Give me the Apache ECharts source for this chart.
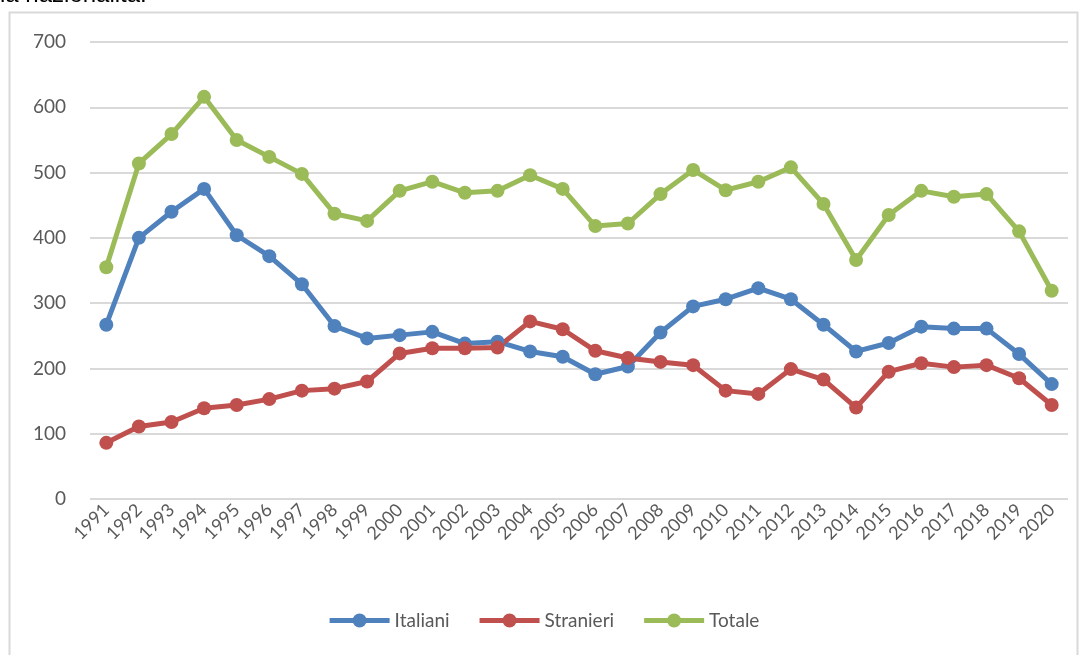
<!DOCTYPE html>
<html>
<head>
<meta charset="utf-8">
<script src="https://cdn.jsdelivr.net/npm/echarts@6/dist/echarts.min.js"></script>
<style>
  html, body { margin: 0; padding: 0; background: #ffffff; }
  #chart { width: 1089px; height: 655px; }
</style>
</head>
<body>
<div id="chart"></div>
<script>
// Years on the category axis
const years = ['1991','1992','1993','1994','1995','1996','1997','1998','1999','2000',
  '2001','2002','2003','2004','2005','2006','2007','2008','2009','2010',
  '2011','2012','2013','2014','2015','2016','2017','2018','2019','2020'];

// Counts per year by nationality
const italiani = [267, 400, 440, 475, 404, 372, 329, 265, 246, 251,
  256, 238, 241, 226, 218, 191, 203, 255, 295, 306,
  323, 306, 267, 226, 239, 264, 261, 261, 222, 176];
const stranieri = [86, 111, 118, 139, 144, 153, 166, 169, 180, 223,
  231, 231, 232, 272, 260, 227, 216, 210, 205, 166,
  161, 199, 183, 140, 195, 208, 202, 205, 185, 144];
const totale = [355, 514, 559, 616, 550, 524, 498, 437, 426, 472,
  486, 469, 472, 496, 475, 418, 422, 467, 504, 473,
  486, 508, 452, 366, 435, 472, 463, 467, 410, 319];

const yTicks = { min: 0, max: 700, interval: 100 };

// Legend marker: thick line with a round dot in the middle
const legendIcon = 'path://M0,4.5L24,4.5L24,9.5L0,9.5Z M36,4.5L60,4.5L60,9.5L36,9.5Z ' +
  'M23,7A7,7 0 1,1 37,7A7,7 0 1,1 23,7Z';

const chart = echarts.init(document.getElementById('chart'), null, { renderer: 'canvas' });

function lineSeries(name, data, color) {
  return {
    name: name,
    type: 'line',
    data: data,
    symbol: 'circle',
    symbolSize: 14,
    lineStyle: { width: 5, color: color },
    itemStyle: { color: color },
    emphasis: { disabled: true },
    animation: false
  };
}

chart.setOption({
  animation: false,
  textStyle: { fontFamily: 'Lato, "Open Sans", sans-serif' },
  graphic: [
    {
      type: 'text',
      style: {
        x: 0,
        y: 7,
        text: 'la nazionalità:',
        font: '24px "Liberation Sans", Arial, sans-serif',
        fill: '#000000',
        verticalAlign: 'bottom'
      },
      silent: true
    },
    {
      type: 'rect',
      shape: { x: 9.5, y: 12.5, width: 1068, height: 660 },
      style: { fill: 'none', stroke: '#d9d9d9', lineWidth: 2 },
      silent: true
    }
  ],
  grid: { left: 90, right: 21, top: 42, bottom: 156, containLabel: false },
  xAxis: {
    type: 'category',
    data: years,
    boundaryGap: true,
    axisLine: { show: false },
    axisTick: { show: false },
    axisLabel: {
      rotate: 45,
      color: '#595959',
      fontSize: 18,
      margin: 8,
      interval: 0
    }
  },
  yAxis: {
    type: 'value',
    min: yTicks.min,
    max: yTicks.max,
    interval: yTicks.interval,
    axisLine: { show: false },
    axisTick: { show: false },
    axisLabel: { color: '#595959', fontSize: 19, margin: 24 },
    splitLine: { lineStyle: { color: '#d9d9d9', width: 2 } }
  },
  legend: {
    bottom: 20,
    left: 'center',
    itemWidth: 60,
    itemHeight: 14,
    itemGap: 30,
    textStyle: { color: '#595959', fontSize: 19 },
    data: [
      { name: 'Italiani', icon: legendIcon },
      { name: 'Stranieri', icon: legendIcon },
      { name: 'Totale', icon: legendIcon }
    ]
  },
  series: [
    lineSeries('Italiani', italiani, '#4f81bd'),
    lineSeries('Stranieri', stranieri, '#c0504d'),
    lineSeries('Totale', totale, '#9bbb59')
  ]
});
</script>
</body>
</html>
